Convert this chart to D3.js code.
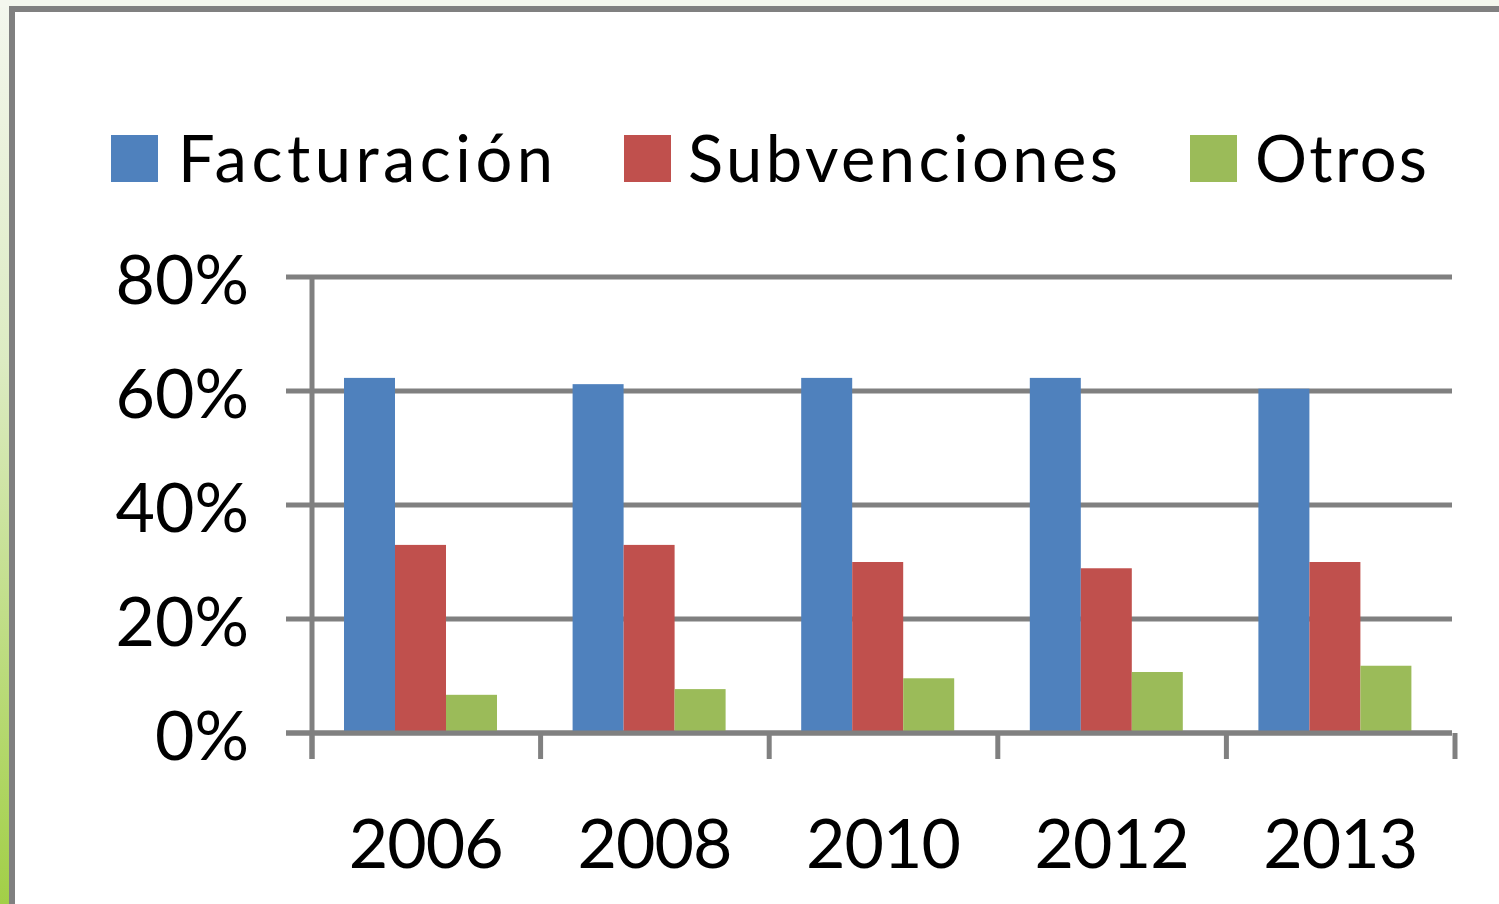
<!DOCTYPE html>
<html>
<head>
<meta charset="utf-8">
<script src="https://cdn.jsdelivr.net/npm/d3@7"></script>
<style>
  html, body { margin: 0; padding: 0; background: #fff; }
  svg text { font-family: Lato, "Open Sans", sans-serif; fill: #000; }
</style>
</head>
<body>
<div id="chart"></div>
<script>
var years = ["2006", "2008", "2010", "2012", "2013"];
var seriesNames = ["Facturación", "Subvenciones", "Otros"];
var facturacion = [62.3, 61.2, 62.3, 62.3, 60.4];
var subvenciones = [33.0, 33.0, 30.0, 28.9, 30.0];
var otros = [6.7, 7.7, 9.6, 10.7, 11.8];
var yTicks = [0, 20, 40, 60, 80];
var colors = ["#4f81bd", "#c0504d", "#9bbb59"];

var svgWidth = 1499;
var svgHeight = 904;

var svg = d3.select("#chart")
    .append("svg")
    .attr("width", svgWidth)
    .attr("height", svgHeight);

// outer slide background (green gradient on the left)
var defs = svg.append("defs");
var grad = defs.append("linearGradient")
    .attr("id", "bg")
    .attr("x1", 0).attr("y1", 0).attr("x2", 0).attr("y2", 1);
grad.append("stop").attr("offset", "0%").attr("stop-color", "#f4f7ee");
grad.append("stop").attr("offset", "40%").attr("stop-color", "#dcebc2");
grad.append("stop").attr("offset", "100%").attr("stop-color", "#a2cf47");

svg.append("rect")
    .attr("width", svgWidth)
    .attr("height", svgHeight)
    .attr("fill", "url(#bg)");

// top strip stays pale
svg.append("rect")
    .attr("x", 0).attr("y", 0)
    .attr("width", svgWidth).attr("height", 7)
    .attr("fill", "#f4f7ee");

// chart frame
svg.append("rect")
    .attr("x", 12)
    .attr("y", 9)
    .attr("width", svgWidth)
    .attr("height", svgHeight)
    .attr("fill", "#fff")
    .attr("stroke", "#808080")
    .attr("stroke-width", 6);

var data = years.map(function(y, i) {
    return { year: y, values: [facturacion[i], subvenciones[i], otros[i]] };
});

var x0 = d3.scaleBand()
    .domain(years)
    .range([312, 1455]);

var x1 = d3.scaleBand()
    .domain(seriesNames)
    .range([32, 185]);

var y = d3.scaleLinear()
    .domain([0, 80])
    .range([733, 277]);

// gridlines
svg.append("g")
    .selectAll("line")
    .data(yTicks)
    .enter()
    .append("line")
    .attr("x1", 286)
    .attr("x2", 1452)
    .attr("y1", d => y(d))
    .attr("y2", d => y(d))
    .attr("stroke", "#808080")
    .attr("stroke-width", 5);

// bars
var groups = svg.append("g")
    .selectAll("g")
    .data(data)
    .enter()
    .append("g")
    .attr("transform", d => `translate(${x0(d.year)}, 0)`);

groups.selectAll("rect")
    .data(d => d.values.map((v, i) => ({ name: seriesNames[i], value: v, color: colors[i] })))
    .enter()
    .append("rect")
    .attr("x", d => x1(d.name))
    .attr("width", x1.bandwidth())
    .attr("y", d => y(d.value))
    .attr("height", d => y(0) - 2 - y(d.value))
    .attr("fill", d => d.color);

// zero line over bars
svg.append("line")
    .attr("x1", 286).attr("x2", 1452)
    .attr("y1", y(0)).attr("y2", y(0))
    .attr("stroke", "#808080")
    .attr("stroke-width", 5);

// vertical axis line
svg.append("line")
    .attr("x1", 312).attr("x2", 312)
    .attr("y1", y(80) - 2).attr("y2", 759)
    .attr("stroke", "#808080")
    .attr("stroke-width", 5);

// category tick marks
var bounds = years.map(d => x0(d)).concat([x0.range()[1]]);
svg.append("g")
    .selectAll("line")
    .data(bounds)
    .enter()
    .append("line")
    .attr("x1", d => d)
    .attr("x2", d => d)
    .attr("y1", y(0))
    .attr("y2", 759)
    .attr("stroke", "#808080")
    .attr("stroke-width", 5);

// y axis labels
var leftAxis = d3.axisLeft(y)
    .tickValues(yTicks)
    .tickSize(0)
    .tickPadding(0)
    .tickFormat(d => d + "%");

var yAxisG = svg.append("g")
    .attr("transform", "translate(249, 0)")
    .call(leftAxis);
yAxisG.select(".domain").remove();
yAxisG.selectAll("text")
    .attr("dy", null)
    .attr("y", 26)
    .style("font-size", "68px")
    .style("font-family", "Lato, sans-serif")
    .attr("fill", "#000");

// x axis labels
var bottomAxis = d3.axisBottom(x0)
    .tickSize(0)
    .tickPadding(0);

var xAxisG = svg.append("g")
    .attr("transform", "translate(0, 868)")
    .call(bottomAxis);
xAxisG.select(".domain").remove();
xAxisG.selectAll("text")
    .attr("dy", null)
    .attr("y", 0)
    .attr("textLength", 155)
    .attr("lengthAdjust", "spacing")
    .style("font-size", "68px")
    .style("font-family", "Lato, sans-serif")
    .attr("fill", "#000");

// legend
var legendX = [111, 624, 1190];
var legendTextX = [178, 688, 1255];
var legendTextLen = [375, 430, 172];

var legend = svg.append("g")
    .selectAll("g")
    .data(seriesNames)
    .enter()
    .append("g");

legend.append("rect")
    .attr("x", (d, i) => legendX[i])
    .attr("y", 135)
    .attr("width", 47)
    .attr("height", 47)
    .attr("fill", (d, i) => colors[i]);

legend.append("text")
    .attr("x", (d, i) => legendTextX[i])
    .attr("y", 182)
    .attr("textLength", (d, i) => legendTextLen[i])
    .attr("lengthAdjust", "spacing")
    .style("font-size", "65px")
    .text(d => d);
</script>
</body>
</html>
